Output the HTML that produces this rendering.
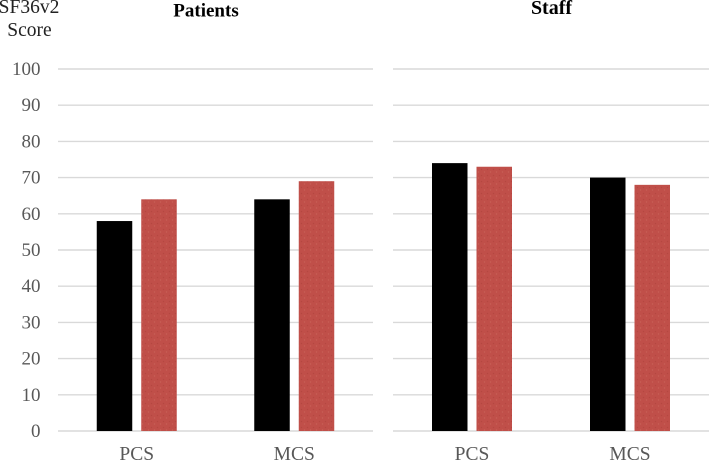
<!DOCTYPE html>
<html>
<head>
<meta charset="utf-8">
<style>
html,body{margin:0;padding:0;background:#fff;}
svg{display:block;}
text{font-family:"Liberation Serif",serif;}
</style>
</head>
<body>
<svg id="chart" width="709" height="461" viewBox="0 0 709 461" xmlns="http://www.w3.org/2000/svg">
<defs>
<filter id="soft" x="-5%" y="-5%" width="110%" height="110%"><feGaussianBlur stdDeviation="0.3"/></filter>
<pattern id="red-texture" width="6" height="6" patternUnits="userSpaceOnUse">
<rect width="6" height="6" fill="#c0504a"/>
<circle cx="1.5" cy="1.5" r="0.8" fill="#b54741"/>
<circle cx="4.5" cy="4" r="0.7" fill="#c85e57"/>
</pattern>
</defs>
<g id="root" filter="url(#soft)"></g>
</svg>
<script>
const tickLabels = [0, 10, 20, 30, 40, 50, 60, 70, 80, 90, 100];
const categories = ['PCS', 'MCS'];
const patientsBlack = [58, 64];
const patientsRed = [64, 69];
const staffBlack = [74, 70];
const staffRed = [73, 68];
const panelTitles = ['Patients', 'Staff'];

const NS = 'http://www.w3.org/2000/svg';
const root = document.getElementById('root');
const y0 = 431, pxPerUnit = 3.62;
const barW = 35.5, barGap = 9;
function yScale(v) { return y0 - v * pxPerUnit; }
function make(tag, attrs, txt) {
  const el = document.createElementNS(NS, tag);
  for (const k in attrs) el.setAttribute(k, attrs[k]);
  if (txt !== undefined) el.textContent = txt;
  root.appendChild(el);
  return el;
}
function xBand(left, width, i) { return left + width * (i + 0.5) / categories.length; }

function drawPanel(left, width, title, titleX, titleY, titleSize, blackVals, redVals, key) {
  tickLabels.forEach(function (t) {
    const line = make('line', { x1: left, x2: left + width, y1: yScale(t), y2: yScale(t), stroke: '#d9d9d9', 'stroke-width': 1.4 });
    
    
  });
  categories.forEach(function (c, i) {
    const cx = xBand(left, width, i);
    const bh = blackVals[i] * pxPerUnit;
    const rh = redVals[i] * pxPerUnit;
    const b = make('rect', { x: cx - barGap / 2 - barW, y: yScale(blackVals[i]), width: barW, height: bh, fill: '#000' });
    
    
    const r = make('rect', { x: cx + barGap / 2, y: yScale(redVals[i]), width: barW, height: rh, fill: 'url(#red-texture)' });
    
    
    const lab = make('text', { x: cx, y: 460, 'text-anchor': 'middle', 'font-size': 19.5, fill: '#595959' }, c);
    
    
  });
  const tt = make('text', { x: titleX, y: titleY, 'text-anchor': 'middle', 'font-size': titleSize, 'font-weight': 'bold', fill: '#000' }, title);
  
  
}

drawPanel(58, 315, panelTitles[0], 206, 16.5, 19, patientsBlack, patientsRed, 'patients');
drawPanel(393, 316, panelTitles[1], 551.5, 14, 20, staffBlack, staffRed, 'staff');

tickLabels.forEach(function (t) {
  const el = make('text', { x: 40.5, y: yScale(t) + 6, 'text-anchor': 'end', 'font-size': 19, fill: '#595959' }, String(t));
  
  
});
const yt1 = make('text', { x: 29, y: 13, 'text-anchor': 'middle', 'font-size': 19.5, fill: '#222' }, 'SF36v2');


const yt2 = make('text', { x: 29.5, y: 36, 'text-anchor': 'middle', 'font-size': 19.5, fill: '#222' }, 'Score');


</script>
</body>
</html>
